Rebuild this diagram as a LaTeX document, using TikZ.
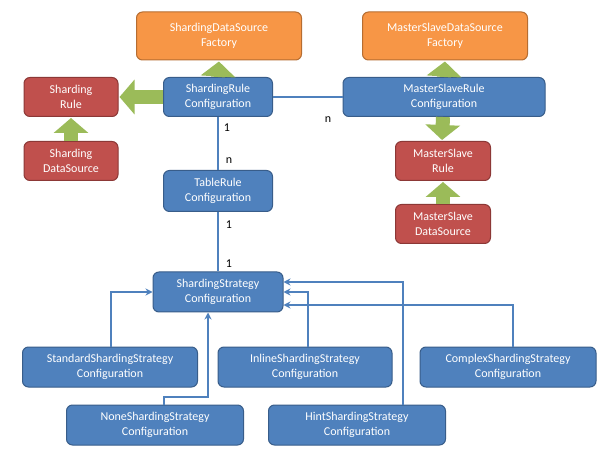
\documentclass[tikz,border=0pt]{standalone}
\usepackage{fontspec}
\setmainfont{Carlito}
\usetikzlibrary{arrows.meta}
\definecolor{bfill}{HTML}{4F81BD}\definecolor{bdraw}{HTML}{385D8A}
\definecolor{rfill}{HTML}{C0504D}\definecolor{rdraw}{HTML}{8C3836}
\definecolor{ofill}{HTML}{F79646}\definecolor{odraw}{HTML}{B66D31}
\definecolor{gfill}{HTML}{9BBB59}
\begin{document}
\begin{tikzpicture}[x=1pt,y=-1pt,
 box/.style={rectangle,rounded corners=6pt,line width=1pt,text=white,align=center,font=\fontsize{12}{14.5}\selectfont,inner sep=0pt},
 blue/.style={box,fill=bfill,draw=bdraw},
 red/.style={box,fill=rfill,draw=rdraw},
 orange/.style={box,fill=ofill,draw=odraw},
 big/.style={draw=gfill,line width=14pt,-{Triangle[width=34pt,length=15pt]},shorten >=1pt},
 link/.style={draw=bfill,line width=2pt},
 inh/.style={link,-{Stealth[length=7pt,width=7pt]}},
 lbl/.style={font=\fontsize{12}{12}\selectfont,inner sep=0pt}]
\useasboundingbox[fill=white] (0,0) rectangle (613,462);
\node[orange,minimum width=165pt,minimum height=48pt] (sdf) at (219,36) {ShardingDataSource\\Factory};
\node[orange,minimum width=165pt,minimum height=48pt] (msdf) at (445,36) {MasterSlaveDataSource\\Factory};
\node[red,minimum width=94pt,minimum height=39pt] (sr) at (71,97) {Sharding\\Rule};
\node[blue,minimum width=109pt,minimum height=39pt] (src) at (218,97) {ShardingRule\\Configuration};
\node[blue,minimum width=202pt,minimum height=39pt] (msrc) at (444,97) {MasterSlaveRule\\Configuration};
\node[red,minimum width=94pt,minimum height=39pt] (sds) at (71,161) {Sharding\\DataSource};
\node[red,minimum width=95pt,minimum height=39pt] (msr) at (443,161) {MasterSlave\\Rule};
\node[red,minimum width=95pt,minimum height=39pt] (msds) at (443,224) {MasterSlave\\DataSource};
\node[blue,minimum width=109pt,minimum height=41pt] (trc) at (218,191) {TableRule\\Configuration};
\node[blue,minimum width=130pt,minimum height=40pt] (ssc) at (218,292) {ShardingStrategy\\Configuration};
\node[blue,minimum width=175pt,minimum height=40pt] (std) at (110,367) {StandardShardingStrategy\\Configuration};
\node[blue,minimum width=174pt,minimum height=40pt] (inl) at (305,367) {InlineShardingStrategy\\Configuration};
\node[blue,minimum width=176pt,minimum height=40pt] (cpx) at (508,367) {ComplexShardingStrategy\\Configuration};
\node[blue,minimum width=177pt,minimum height=40pt] (non) at (155,425) {NoneShardingStrategy\\Configuration};
\node[blue,minimum width=177pt,minimum height=40pt] (hnt) at (357,425) {HintShardingStrategy\\Configuration};
% green arrows
\draw[big] (src.north) -- (sdf.south);
\draw[big] (src.west) -- (sr.east);
\draw[big] (sds.north) -- (sr.south);
\draw[big] (msrc.north) -- (msdf.south);
\draw[big] ([xshift=-1pt]msrc.south) -- ([xshift=-1pt]msr.north);
\draw[big] (msds.north) -- (msr.south);
% associations
\draw[link] (src.east) -- (msrc.west);
\draw[link] (src.south) -- (trc.north);
\draw[link] (trc.south) -- (ssc.north);
\node[lbl] (l1) at (328,120) {n};
\node[lbl] (l2) at (227,128) {1};
\node[lbl] (l3) at (229,161) {n};
\node[lbl] (l4) at (229,225) {1};
\node[lbl] (l5) at (229,264) {1};
% inheritance
\draw[inh] ([xshift=1pt]std.north) |- ([yshift=0pt]ssc.west);
\draw[inh] ([xshift=9pt]non.north) -- ++(0,-8) -| ([xshift=-10pt]ssc.south);
\draw[inh] ([xshift=3pt]inl.north) |- ([yshift=0pt]ssc.east);
\draw[inh] ([xshift=46pt]hnt.north) |- ([yshift=10pt]ssc.east);
\draw[inh] ([xshift=5pt]cpx.north) |- ([yshift=-13pt]ssc.east);
\end{tikzpicture}
\end{document}
